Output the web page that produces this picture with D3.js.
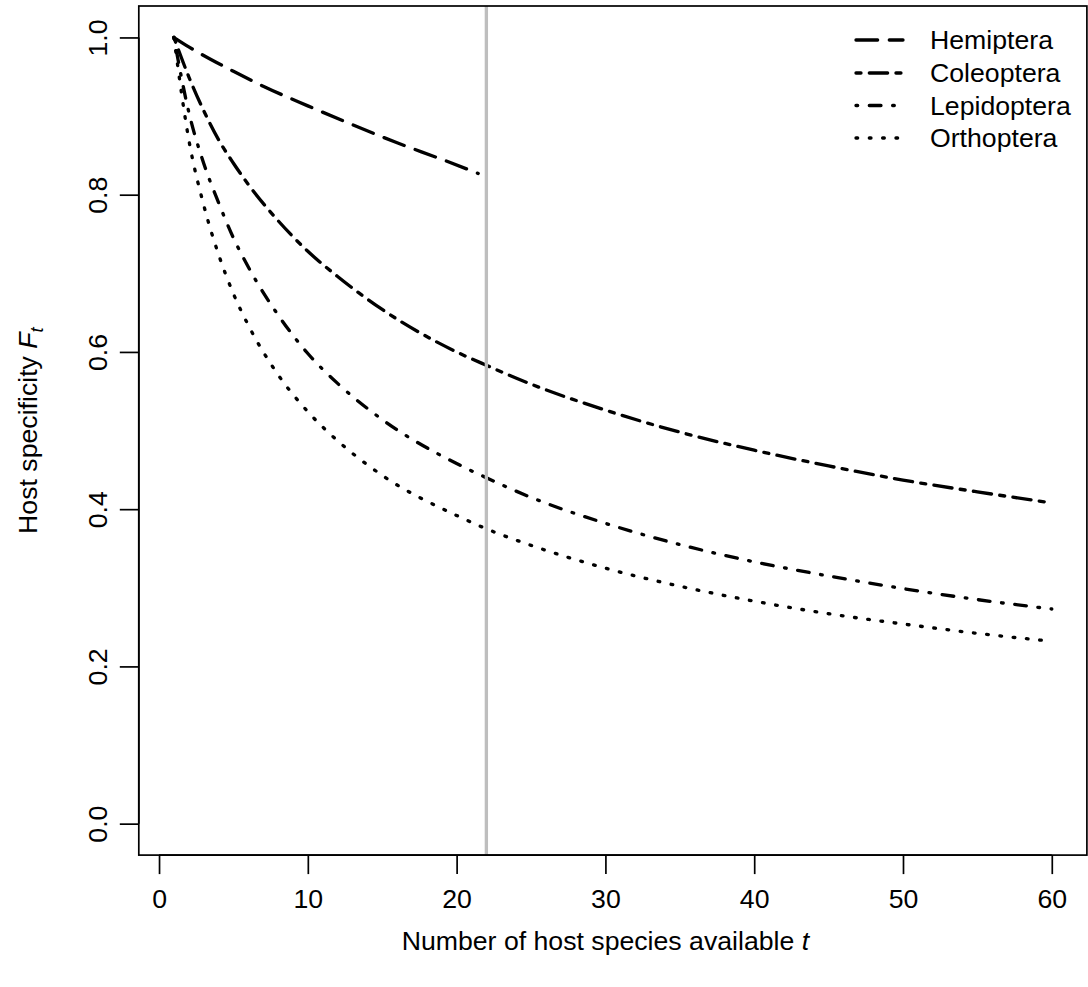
<!DOCTYPE html>
<html>
<head>
<meta charset="utf-8">
<script src="https://cdn.jsdelivr.net/npm/d3@7"></script>
<style>
  html, body { margin: 0; padding: 0; background: #fff; }
  svg { display: block; }
  text { font-family: "Liberation Sans", Arial, Helvetica, sans-serif; fill: #000; }
</style>
</head>
<body>
<svg id="chart" width="1088" height="987"></svg>
<script>
// ---- data ----
const tValues = [1, 2, 3, 4, 5, 6, 8, 10, 12, 15, 20, 22, 25, 30, 35, 40, 45, 50, 55, 60];
const hemipteraT = [1, 2, 3, 5, 7, 10, 13, 16, 19, 21.45];
const hemiptera = [1.0, 0.988, 0.977, 0.957, 0.938, 0.913, 0.889, 0.866, 0.845, 0.827];
const coleoptera = [1.0, 0.950, 0.907, 0.870, 0.840, 0.813, 0.767, 0.728, 0.696, 0.654, 0.600, 0.583, 0.559, 0.526, 0.498, 0.475, 0.455, 0.437, 0.422, 0.408];
const lepidoptera = [1.0, 0.905, 0.840, 0.790, 0.745, 0.708, 0.647, 0.598, 0.560, 0.514, 0.458, 0.440, 0.415, 0.382, 0.355, 0.333, 0.315, 0.299, 0.285, 0.273];
const orthoptera = [1.0, 0.870, 0.787, 0.724, 0.674, 0.634, 0.571, 0.524, 0.487, 0.443, 0.392, 0.375, 0.354, 0.325, 0.302, 0.283, 0.267, 0.254, 0.242, 0.232];
const seriesNames = ["Hemiptera", "Coleoptera", "Lepidoptera", "Orthoptera"];
const xTicks = [0, 10, 20, 30, 40, 50, 60];
const yTicks = [0.0, 0.2, 0.4, 0.6, 0.8, 1.0];
const refLineT = 22;

// ---- layout ----
const svg = d3.select("#chart");
const FS = 26.67;
const lw = 3.33;            // lwd = 2
const u = lw;               // dash unit
const x = d3.scaleLinear().domain([-1.36, 62.36]).range([138.8, 1086.9]);
const y = d3.scaleLinear().domain([-0.04, 1.04]).range([855.1, 6.0]);

function dash(pattern) {
  const out = [];
  for (let i = 0; i < pattern.length; i++) {
    const v = pattern[i] * u;
    if (i % 2 === 0) out.push(Math.max(v - lw * 0.5, 0.4));
    else out.push(v + lw * 0.5);
  }
  return out.join(",");
}
const dashes = [dash([7, 3]), dash([2, 2, 6, 2]), dash([1, 3, 4, 3]), dash([1, 3])];

const clipId = "plotclip";
svg.append("defs").append("clipPath").attr("id", clipId)
  .append("rect").attr("x", x.range()[0]).attr("y", y.range()[1])
  .attr("width", x.range()[1] - x.range()[0]).attr("height", y.range()[0] - y.range()[1]);

const line = d3.line().x(d => x(d[0])).y(d => y(d[1])).curve(d3.curveMonotoneX);

const data = [
  hemipteraT.map((t, i) => [t, hemiptera[i]]),
  tValues.map((t, i) => [t, coleoptera[i]]),
  tValues.map((t, i) => [t, lepidoptera[i]]),
  tValues.map((t, i) => [t, orthoptera[i]])
];

const g = svg.append("g");
data.forEach((d, i) => {
  g.append("path").datum(d).attr("d", line)
    .attr("fill", "none").attr("stroke", "#000").attr("stroke-width", lw)
    .attr("stroke-linecap", "round").attr("stroke-linejoin", "round")
    .attr("stroke-dasharray", dashes[i]);
});

// reference line
svg.append("line").attr("clip-path", `url(#${clipId})`)
  .attr("x1", x(refLineT)).attr("x2", x(refLineT))
  .attr("y1", y.range()[1]).attr("y2", y.range()[0])
  .attr("stroke", "#bebebe").attr("stroke-width", lw);

// box
svg.append("rect").attr("x", x.range()[0]).attr("y", y.range()[1])
  .attr("width", x.range()[1] - x.range()[0]).attr("height", y.range()[0] - y.range()[1])
  .attr("fill", "none").attr("stroke", "#000").attr("stroke-width", 1.7);

// x axis
const xAxis = d3.axisBottom(x).tickValues(xTicks).tickSize(19).tickSizeOuter(0).tickPadding(0).tickFormat(d3.format("d"));
const gx = svg.append("g").attr("transform", `translate(0,${y.range()[0]})`).call(xAxis);
gx.select(".domain").attr("d", `M${x(0)},0H${x(60)}`).attr("stroke", "#000").attr("stroke-width", 1.7);
gx.selectAll(".tick line").attr("stroke", "#000").attr("stroke-width", 1.7);
gx.selectAll(".tick text").attr("y", 53).attr("dy", null).style("font-size", FS + "px")
  .style("font-family", '"Liberation Sans", Arial, sans-serif');

// y axis
const yAxis = d3.axisLeft(y).tickValues(yTicks).tickSize(19).tickSizeOuter(0).tickPadding(0).tickFormat(d3.format(".1f"));
const gy = svg.append("g").attr("transform", `translate(${x.range()[0]},0)`).call(yAxis);
gy.select(".domain").attr("d", `M0,${y(0)}V${y(1)}`).attr("stroke", "#000").attr("stroke-width", 1.7);
gy.selectAll(".tick line").attr("stroke", "#000").attr("stroke-width", 1.7);
gy.selectAll(".tick text")
  .attr("x", null).attr("dy", null)
  .attr("text-anchor", "middle")
  .attr("transform", "translate(-32,0) rotate(-90)")
  .style("font-size", FS + "px")
  .style("font-family", '"Liberation Sans", Arial, sans-serif');

// axis titles
const xt = svg.append("text").attr("x", (x(0) + x(60)) / 2).attr("y", 950)
  .attr("text-anchor", "middle").style("font-size", FS + "px");
xt.append("tspan").text("Number of host species available ");
xt.append("tspan").attr("font-style", "italic").text("t");

const yt = svg.append("text")
  .attr("transform", `translate(37,${(y(0) + y(1)) / 2}) rotate(-90)`)
  .attr("text-anchor", "middle").style("font-size", FS + "px");
yt.append("tspan").text("Host specificity ");
yt.append("tspan").attr("font-style", "italic").text("F");
yt.append("tspan").attr("font-style", "italic").attr("dy", 6).style("font-size", (FS * 0.7) + "px").text("t");

// legend
const legY = [40, 73, 105.5, 138];
const leg = svg.append("g");
seriesNames.forEach((name, i) => {
  leg.append("line").attr("x1", 856).attr("x2", 903).attr("y1", legY[i]).attr("y2", legY[i])
    .attr("stroke", "#000").attr("stroke-width", lw).attr("stroke-linecap", "round")
    .attr("stroke-dasharray", dashes[i]);
  leg.append("text").attr("x", 930).attr("y", legY[i]).attr("dy", "0.35em")
    .style("font-size", FS + "px").text(name);
});
</script>
</body>
</html>
